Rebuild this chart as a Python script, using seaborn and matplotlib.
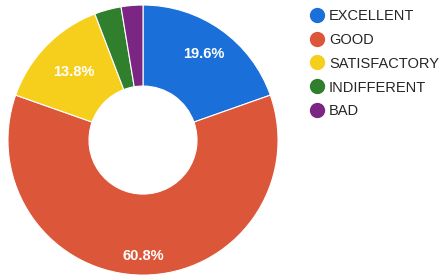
import numpy as np
import seaborn as sns
import matplotlib.pyplot as plt
from matplotlib.lines import Line2D

sns.set_theme(style="white")
plt.rcParams['font.family'] = ['Liberation Sans', 'DejaVu Sans']

# Data
categories = ['EXCELLENT', 'GOOD', 'SATISFACTORY', 'INDIFFERENT', 'BAD']
shares = [19.6, 60.8, 13.8, 3.2, 2.6]
colors = ['#1a6fd8', '#dc5639', '#f6cf1c', '#2f7f2c', '#7b2683']
label_dist = [0.78, 0.86, 0.72, None, None]

fig = plt.figure(figsize=(4.4, 2.79), dpi=100)
ax = fig.add_axes([0.018, 0.014, 0.614, 0.968])

wedges, _ = ax.pie(
    shares,
    colors=colors,
    startangle=90,
    counterclock=False,
    radius=1.0,
    wedgeprops=dict(width=0.6, edgecolor='white', linewidth=0.8),
)
ax.set_aspect('equal')
ax.set_xlim(-1.0, 1.0)
ax.set_ylim(-1.0, 1.0)

# percent labels for the big wedges
for w, val, d in zip(wedges, shares, label_dist):
    if d is None:
        continue
    ang = np.deg2rad((w.theta1 + w.theta2) / 2)
    ax.text(d * np.cos(ang), d * np.sin(ang), f'{val:.1f}%',
            ha='center', va='center', color='white',
            fontsize=10.5, fontweight='bold')

handles = [Line2D([0], [0], marker='o', linestyle='', markersize=10,
                  markerfacecolor=c, markeredgecolor=c) for c in colors]
fig.legend(handles, categories, loc='upper left',
           bbox_to_anchor=(0.685, 1.0), frameon=False,
           fontsize=10.5, handletextpad=0.3, labelspacing=0.68,
           handlelength=1.0, borderaxespad=0.2)

fig.savefig('out.png', dpi=100)
